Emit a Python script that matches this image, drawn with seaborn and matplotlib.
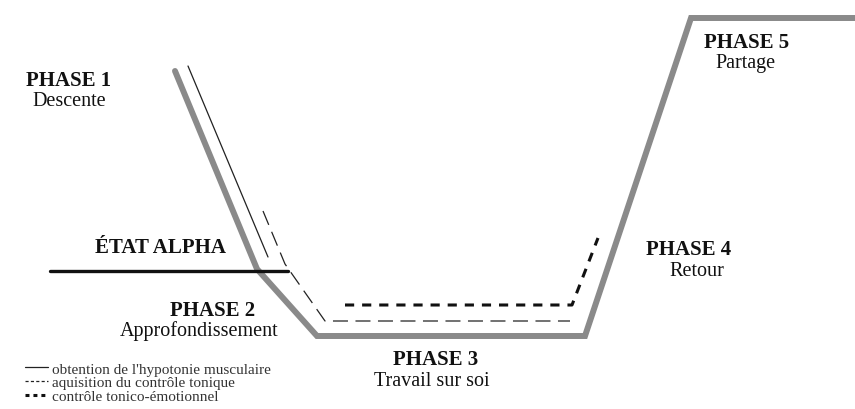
import matplotlib
matplotlib.use("Agg")
import matplotlib.pyplot as plt
import seaborn as sns

sns.set_style("white")
plt.rcParams["font.family"] = ["Liberation Serif", "DejaVu Serif"]

# Path of the main (grey) curve, in picture coordinates (x right, y down)
main_x = [175, 257, 317, 585, 691, 855]
main_y = [72, 270, 337, 337, 19, 19]

# "ETAT ALPHA" threshold
alpha_x = [50, 288]
alpha_y = [272, 272]

# the three learning curves
hypotonie_x = [188, 268]
hypotonie_y = [67, 258]
tonique_x = [263, 285, 325, 570]
tonique_y = [212, 265, 322, 322]
emotion_x = [345, 572, 598]
emotion_y = [306, 306, 239]

legend_labels = [
    "obtention de l'hypotonie musculaire",
    "aquisition du contrôle tonique",
    "contrôle tonico-émotionnel",
]

# phase labels: (title, subtitle, x title, baseline title, x sub, baseline sub)
phases = [
    ("PHASE 1", "Descente", 69, 86, 69, 106),
    ("PHASE 2", "Approfondissement", 213, 316, 199, 336),
    ("PHASE 3", "Travail sur soi", 436, 365, 432, 386),
    ("PHASE 4", "Retour", 689, 255, 697, 276),
    ("PHASE 5", "Partage", 747, 48, 745, 68),
]

fig = plt.figure(figsize=(8.55, 4.1), dpi=100)
ax = fig.add_axes([0, 0, 1, 1])

sns.lineplot(x=main_x, y=main_y, sort=False, estimator=None, ax=ax,
             color="#8a8a8a", linewidth=4.3, solid_joinstyle="miter")
sns.lineplot(x=alpha_x, y=alpha_y, sort=False, estimator=None, ax=ax,
             color="#111111", linewidth=2.4)
sns.lineplot(x=hypotonie_x, y=hypotonie_y, sort=False, estimator=None, ax=ax,
             color="#222222", linewidth=0.9, label=legend_labels[0])
sns.lineplot(x=tonique_x, y=tonique_y, sort=False, estimator=None, ax=ax,
             color="#222222", linewidth=0.9, linestyle=(0, (12, 6)),
             label=legend_labels[1])
sns.lineplot(x=emotion_x, y=emotion_y, sort=False, estimator=None, ax=ax,
             color="#111111", linewidth=2.2, linestyle=(0, (3, 2.6)),
             label=legend_labels[2])

for title, sub, tx, ty, sx, sy in phases:
    ax.text(tx, ty, title, ha="center", va="baseline", fontsize=15,
            fontweight="bold", color="#111111")
    ax.text(sx, sy, sub, ha="center", va="baseline", fontsize=14.5,
            color="#111111")

ax.text(160, 253, "ÉTAT ALPHA", ha="center", va="baseline", fontsize=15,
        fontweight="bold", color="#111111")

leg = ax.legend(loc="upper left", bbox_to_anchor=(25 / 855, 1 - 363 / 410),
                frameon=False, fontsize=11, handlelength=1.5,
                handletextpad=0.3, labelspacing=0.0, borderpad=0,
                borderaxespad=0)
for t in leg.get_texts():
    t.set_color("#333333")
# key styles closer to the original: fine dashes, then square dots
leg.get_lines()[1].set_linestyle((0, (2.5, 1.8)))
leg.get_lines()[2].set_linestyle((0, (1.3, 1.3)))

ax.set_xlim(0, 855)
ax.set_ylim(410, 0)
ax.axis("off")

fig.savefig("out.png", dpi=100, facecolor="white")
